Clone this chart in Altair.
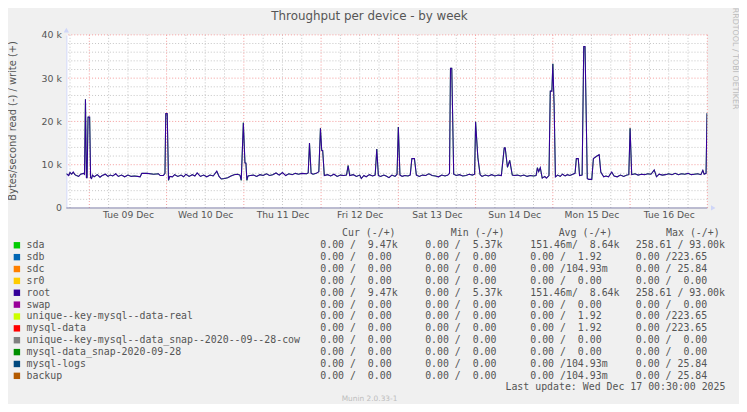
import altair as alt
import pandas as pd

# ---------------- text ----------------
TITLE = "Throughput per device - by week"
Y_TITLE = "Bytes/second read (-) / write (+)"
SIDE_TEXT = "RRDTOOL / TOBI OETIKER"
LAST_UPDATE = "Last update: Wed Dec 17 00:30:00 2025"
VERSION = "Munin 2.0.33-1"
HEADERS = ["Cur (-/+)", "Min (-/+)", "Avg (-/+)", "Max (-/+)"]
DAY_LABEL_DATES = [9, 10, 11, 12, 13, 14, 15, 16]   # labels "Tue 09 Dec" ... "Tue 16 Dec"
Y_TICKS = [0, 10, 20, 30, 40]                        # thousands

# ---------------- write throughput (root / sda), (hours from 09 Dec 00:00, k bytes/s) ----------------
mon_08 = [(-7.1, 7.9), (-6.4, 7.5), (-6.0, 8.2), (-5.5, 7.8), (-5.0, 8.3), (-4.5, 7.7), (-4.0, 7.5),
          (-3.3, 7.3), (-2.7, 7.8), (-1.8, 8.0), (-1.5, 7.8), (-1.2, 25.1), (-0.9, 7.0), (-0.7, 7.0),
          (-0.4, 21.0), (0.1, 21.0), (0.4, 7.0), (0.7, 6.8), (1.0, 7.6)]
tue_09 = [(1.5, 7.2), (2.5, 7.7), (3.3, 7.1), (4.0, 7.5), (5.0, 7.8), (5.8, 7.3), (6.5, 7.6), (7.3, 7.4),
          (8.2, 7.9), (9.0, 7.3), (10.0, 7.6), (11.0, 7.2), (12.0, 7.6), (13.0, 7.3), (14.0, 7.4),
          (15.0, 7.3), (15.8, 7.2), (16.3, 8.0), (18.0, 8.0), (20.0, 7.8), (21.5, 7.9), (22.0, 7.5),
          (23.0, 7.5), (23.5, 8.0), (23.75, 21.8), (24.2, 21.8), (24.6, 6.4), (25.0, 7.3)]
wed_10 = [(25.8, 7.2), (26.5, 7.7), (27.5, 7.3), (28.5, 7.6), (29.3, 7.2), (30.0, 7.8), (31.0, 7.3),
          (32.0, 7.7), (32.8, 7.4), (33.5, 8.1), (34.5, 7.3), (35.5, 7.6), (36.5, 7.2), (37.5, 7.6),
          (38.5, 7.4), (39.6, 8.5), (40.3, 7.3), (41.0, 6.7), (42.0, 6.8), (43.0, 7.0), (44.0, 7.4),
          (45.0, 7.7), (46.0, 7.8), (46.8, 7.6), (47.2, 6.4), (47.85, 19.7), (48.35, 10.4),
          (48.65, 10.4), (48.95, 6.4), (49.3, 7.4)]
thu_11 = [(50.0, 7.5), (51.0, 7.6), (52.0, 7.3), (53.0, 7.7), (54.0, 7.5), (55.0, 7.9), (56.0, 7.5),
          (57.0, 7.7), (58.0, 8.1), (59.0, 7.6), (60.0, 8.2), (61.0, 7.5), (62.0, 7.9), (63.0, 7.7),
          (64.0, 8.0), (65.0, 7.8), (66.0, 8.0), (67.5, 7.9), (68.0, 8.1), (68.4, 15.0), (68.9, 8.0),
          (69.5, 7.8), (70.5, 8.0), (71.3, 8.4), (71.8, 18.4), (72.2, 13.3), (72.5, 13.3), (73.0, 7.5)]
fri_12 = [(74.0, 7.7), (75.0, 7.4), (76.0, 7.8), (77.0, 7.3), (78.0, 7.6), (79.0, 7.5), (79.9, 7.6),
          (80.4, 9.8), (80.9, 7.5), (82.0, 7.7), (83.0, 7.3), (84.0, 7.6), (84.5, 6.8), (85.3, 7.5),
          (86.0, 7.2), (87.0, 7.7), (88.0, 7.4), (88.8, 7.6), (89.3, 13.6), (89.8, 7.5), (90.5, 7.3),
          (91.5, 7.6), (92.2, 7.4), (93.1, 7.0), (94.0, 7.6), (95.0, 7.3), (95.6, 7.8), (96.0, 18.7),
          (96.5, 7.6)]
sat_13 = [(97.2, 7.3), (98.0, 7.5), (99.0, 7.4), (99.7, 7.6), (100.2, 11.4), (101.0, 11.4), (101.6, 7.6),
          (102.5, 7.3), (103.5, 7.6), (104.5, 7.5), (105.5, 7.9), (106.5, 7.5), (107.5, 7.4), (108.5, 7.2),
          (109.5, 7.6), (110.5, 7.4), (111.4, 7.6), (111.9, 8.0), (112.2, 32.3), (112.6, 32.3),
          (113.2, 7.8), (114.0, 7.5), (115.0, 7.7), (116.0, 7.4), (117.0, 7.5), (118.0, 7.8),
          (119.0, 7.6), (119.7, 7.8), (120.0, 19.9)]
sun_14 = [(120.7, 11.7), (121.4, 7.7), (122.0, 7.3), (123.0, 7.6), (124.0, 7.4), (125.0, 7.7), (126.0, 7.4),
          (127.0, 7.6), (128.0, 7.5), (128.9, 13.9), (129.2, 13.9), (129.9, 9.4), (130.6, 11.0),
          (131.4, 7.6), (132.0, 7.5), (133.0, 7.6), (134.0, 7.4), (135.0, 7.6), (136.0, 7.3),
          (137.0, 7.5), (138.0, 7.4), (138.8, 7.5), (139.2, 9.3), (139.6, 8.4), (140.1, 9.3),
          (140.7, 6.9), (141.5, 7.3), (142.0, 6.9), (142.8, 7.5), (143.2, 27.0), (143.7, 27.0),
          (144.0, 33.3), (144.4, 23.7), (144.8, 7.2)]
mon_15 = [(145.5, 7.6), (146.3, 7.3), (147.0, 7.8), (147.8, 7.4), (148.5, 7.7), (149.3, 7.5), (150.2, 7.8),
          (150.9, 8.0), (151.3, 11.4), (151.9, 11.4), (152.3, 7.5), (153.1, 7.6), (153.6, 37.3),
          (154.0, 37.3), (154.7, 6.8), (155.2, 6.6), (156.1, 6.6), (156.6, 11.4), (157.7, 12.0),
          (158.4, 12.3), (158.9, 8.3), (159.8, 7.2), (160.5, 7.4), (161.3, 7.2), (162.3, 8.3),
          (163.0, 7.4), (164.0, 7.2), (165.0, 7.6), (166.0, 7.3), (167.0, 7.6), (167.6, 7.7), (168.0, 18.4)]
tue_16 = [(168.5, 7.7), (169.5, 7.9), (170.5, 7.6), (171.5, 7.8), (172.5, 7.7), (173.5, 7.9), (174.5, 7.8),
          (175.5, 8.8), (176.2, 7.2), (177.0, 7.8), (178.0, 7.6), (179.0, 7.7), (180.0, 7.9), (181.0, 7.7),
          (182.0, 8.0), (183.0, 7.7), (184.0, 7.9), (185.0, 7.8), (186.0, 8.0), (187.0, 7.7), (188.0, 7.8),
          (189.0, 7.9), (190.0, 7.7), (190.6, 8.7), (191.0, 7.8), (191.6, 8.0), (191.9, 21.9)]

# ---------------- legend table ----------------
NAMES = ["sda", "sdb", "sdc", "sr0", "root", "swap", "unique--key-mysql--data-real", "mysql-data",
         "unique--key-mysql--data_snap--2020--09--28-cow", "mysql-data_snap-2020-09-28", "mysql-logs", "backup"]
COLORS = ["#00CC00", "#0066B3", "#FF8000", "#FFCC00", "#330099", "#990099", "#CCFF00", "#FF0000",
          "#808080", "#008F00", "#00487D", "#B35A00"]
CUR = ["  0.00 /  9.47k", "  0.00 /  0.00 ", "  0.00 /  0.00 ", "  0.00 /  0.00 ", "  0.00 /  9.47k",
       "  0.00 /  0.00 ", "  0.00 /  0.00 ", "  0.00 /  0.00 ", "  0.00 /  0.00 ", "  0.00 /  0.00 ",
       "  0.00 /  0.00 ", "  0.00 /  0.00 "]
MIN = ["  0.00 /  5.37k", "  0.00 /  0.00 ", "  0.00 /  0.00 ", "  0.00 /  0.00 ", "  0.00 /  5.37k",
       "  0.00 /  0.00 ", "  0.00 /  0.00 ", "  0.00 /  0.00 ", "  0.00 /  0.00 ", "  0.00 /  0.00 ",
       "  0.00 /  0.00 ", "  0.00 /  0.00 "]
AVG = ["151.46m/  8.64k", "  0.00 /  1.92 ", "  0.00 /104.93m", "  0.00 /  0.00 ", "151.46m/  8.64k",
       "  0.00 /  0.00 ", "  0.00 /  1.92 ", "  0.00 /  1.92 ", "  0.00 /  0.00 ", "  0.00 /  0.00 ",
       "  0.00 /104.93m", "  0.00 /104.93m"]
MAX = ["258.61 / 93.00k", "  0.00 /223.65 ", "  0.00 / 25.84 ", "  0.00 /  0.00 ", "258.61 / 93.00k",
       "  0.00 /  0.00 ", "  0.00 /223.65 ", "  0.00 /223.65 ", "  0.00 /  0.00 ", "  0.00 /  0.00 ",
       "  0.00 / 25.84 ", "  0.00 / 25.84 "]

# ---------------- layout (pixels, relative to plot origin) ----------------
W, H = 648, 175
PAD = {"left": 59, "top": 25, "right": 32, "bottom": 196}
ROW_Y0, ROW_STEP = 212.7, 12
CELL_X = [256.7, 362.7, 469.0, 575.7]
HEAD_X = [278.7, 388.7, 497.7, 606.3]
FONT = "DejaVu Sans"
MONO = "DejaVu Sans Mono"
TXT = "#555555"

def ms(s):
    return int(pd.Timestamp(s, tz="UTC").timestamp() * 1000)

X_DOMAIN = [ms("2025-12-08 16:52"), ms("2025-12-17 00:00")]
NOONS = [ms(f"2025-12-{d:02d} 12:00") for d in DAY_LABEL_DATES]

series = mon_08 + tue_09 + wed_10 + thu_11 + fri_12 + sat_13 + sun_14 + mon_15 + tue_16
df = pd.DataFrame(series, columns=["h", "k"])
base = pd.Timestamp("2025-12-09 00:00:00")
df["t"] = (base + pd.to_timedelta(df["h"], unit="h")).dt.strftime("%Y-%m-%dT%H:%M:%SZ")

xs = alt.Scale(type="utc", domain=X_DOMAIN, nice=False)
ys = alt.Scale(domain=[0, 40], nice=False, zero=True)
x_axis = alt.Axis(values=NOONS, labelExpr="utcFormat(datum.value, '%a %d %b')", ticks=False, domain=False,
                  grid=False, labelPadding=3, labelFontSize=9.3, labelFont=FONT, labelColor=TXT, title=None,
                  labelFlush=False, labelOverlap=False)
y_axis = alt.Axis(values=Y_TICKS, labelExpr="datum.value == 0 ? '0' : datum.value + ' k'", ticks=False,
                  domain=True, domainColor="#CFD6F8", domainWidth=1, grid=False, labelPadding=5,
                  labelFontSize=9.5, labelFont=FONT, labelColor=TXT, title=None, labelFlush=False,
                  labelOverlap=False)

# grid positions
all6h = pd.date_range("2025-12-08 18:00", "2025-12-17 00:00", freq="6h")
minor_x = pd.DataFrame({"t": [t.strftime("%Y-%m-%dT%H:%M:%SZ") for t in all6h if t.hour != 0]})
major_x = pd.DataFrame({"t": [t.strftime("%Y-%m-%dT%H:%M:%SZ") for t in all6h if t.hour == 0]})
minor_y = pd.DataFrame({"v": [v for v in range(2, 40, 2) if v % 10 != 0]})
major_y = pd.DataFrame({"v": [10, 20, 30, 40]})

X = lambda: alt.X("t:T", scale=xs, axis=x_axis)
Y = lambda f: alt.Y(f, scale=ys, axis=y_axis)

dot = [1, 2]
g1 = alt.Chart(minor_x).mark_rule(color="#C4C4C4", strokeDash=dot, strokeWidth=1).encode(x=X())
g2 = alt.Chart(minor_y).mark_rule(color="#C4C4C4", strokeDash=dot, strokeWidth=1).encode(y=Y("v:Q"))
g3 = alt.Chart(major_x).mark_rule(color="#F59A9A", strokeDash=dot, strokeWidth=1).encode(x=X())
g4 = alt.Chart(major_y).mark_rule(color="#F59A9A", strokeDash=dot, strokeWidth=1).encode(y=Y("v:Q"))

zero_df = pd.DataFrame({"v": [0]})
zero = alt.Chart(zero_df).mark_rule(color="#7E7EA8", strokeWidth=1).encode(y=Y("v:Q"))

sda = alt.Chart(df).mark_line(color="#00CC00", strokeWidth=0.8, clip=True).encode(x=X(), y=Y("k:Q"))
root = alt.Chart(df).mark_line(color="#330099", strokeWidth=1.1, clip=True).encode(x=X(), y=Y("k:Q"))

arrow_up = alt.Chart(pd.DataFrame({"t": ["2025-12-08T16:52:00Z"], "k": [41.1]})).mark_point(
    shape="triangle-up", filled=True, color="#CFD6F8", size=28, opacity=1).encode(x=X(), y=Y("k:Q"))
arrow_rt = alt.Chart(pd.DataFrame({"t": ["2025-12-17T01:50:00Z"], "k": [0]})).mark_point(
    shape="triangle-right", filled=True, color="#CFD6F8", size=28, opacity=1).encode(x=X(), y=Y("k:Q"))

plot = alt.layer(g1, g2, g3, g4, zero, sda, root, arrow_up, arrow_rt)

# ---------------- text layers ----------------
PX = lambda: alt.X("px:Q", scale=None)
PY = lambda: alt.Y("py:Q", scale=None)
nb = lambda s: s.replace(" ", "\u00a0")

ann = pd.DataFrame([{"px": 306.5, "py": -19, "text": TITLE}])
title = alt.Chart(ann).mark_text(font=FONT, fontSize=12, color=TXT, align="center", baseline="middle").encode(
    x=PX(), y=PY(), text="text:N")
ytitle = alt.Chart(pd.DataFrame([{"px": -54, "py": 87, "text": Y_TITLE}])).mark_text(
    font=FONT, fontSize=10, color=TXT, align="center", baseline="middle", angle=270).encode(
    x=PX(), y=PY(), text="text:N")
side = alt.Chart(pd.DataFrame([{"px": 676, "py": -27.5, "text": SIDE_TEXT}])).mark_text(
    font=FONT, fontSize=8, color="#BBBBBB", align="left", baseline="middle", angle=90).encode(
    x=PX(), y=PY(), text="text:N")

sq_df = pd.DataFrame({"px": [-50] * len(NAMES), "py": [ROW_Y0 + i * ROW_STEP for i in range(len(NAMES))],
                      "color": COLORS})
squares = alt.Chart(sq_df).mark_square(size=42, opacity=1).encode(
    x=PX(), y=PY(), color=alt.Color("color:N", scale=None))
name_df = pd.DataFrame({"px": [-40.3] * len(NAMES), "py": [ROW_Y0 + i * ROW_STEP for i in range(len(NAMES))],
                        "text": [nb(n) for n in NAMES]})
names = alt.Chart(name_df).mark_text(font=MONO, fontSize=10, color=TXT, align="left", baseline="middle").encode(
    x=PX(), y=PY(), text="text:N")

cells = []
for j, col in enumerate([CUR, MIN, AVG, MAX]):
    for i, s in enumerate(col):
        cells.append({"px": CELL_X[j], "py": ROW_Y0 + i * ROW_STEP, "text": nb(s)})
for j, h in enumerate(HEADERS):
    cells.append({"px": HEAD_X[j], "py": ROW_Y0 - ROW_STEP - 0.4, "text": nb(h)})
table = alt.Chart(pd.DataFrame(cells)).mark_text(font=MONO, fontSize=10, color=TXT, align="left",
                                                 baseline="middle").encode(x=PX(), y=PY(), text="text:N")
last = alt.Chart(pd.DataFrame([{"px": 666.3, "py": 356.3, "text": nb(LAST_UPDATE)}])).mark_text(
    font=MONO, fontSize=10, color=TXT, align="right", baseline="middle").encode(x=PX(), y=PY(), text="text:N")
ver = alt.Chart(pd.DataFrame([{"px": 306.5, "py": 368, "text": VERSION}])).mark_text(
    font=FONT, fontSize=7.5, color="#BDBDBD", align="center", baseline="middle").encode(
    x=PX(), y=PY(), text="text:N")

texts = alt.layer(title, ytitle, side, squares, names, table, last, ver)

chart = alt.layer(plot, texts).resolve_scale(x="independent", y="independent").properties(
    width=W, height=H, padding=PAD, autosize=alt.AutoSizeParams(type="none"),
).configure(background="#F0F0F0").configure_view(stroke=None, fill="white")

chart.save("out.html", embed_options={"renderer": "svg", "actions": False})
